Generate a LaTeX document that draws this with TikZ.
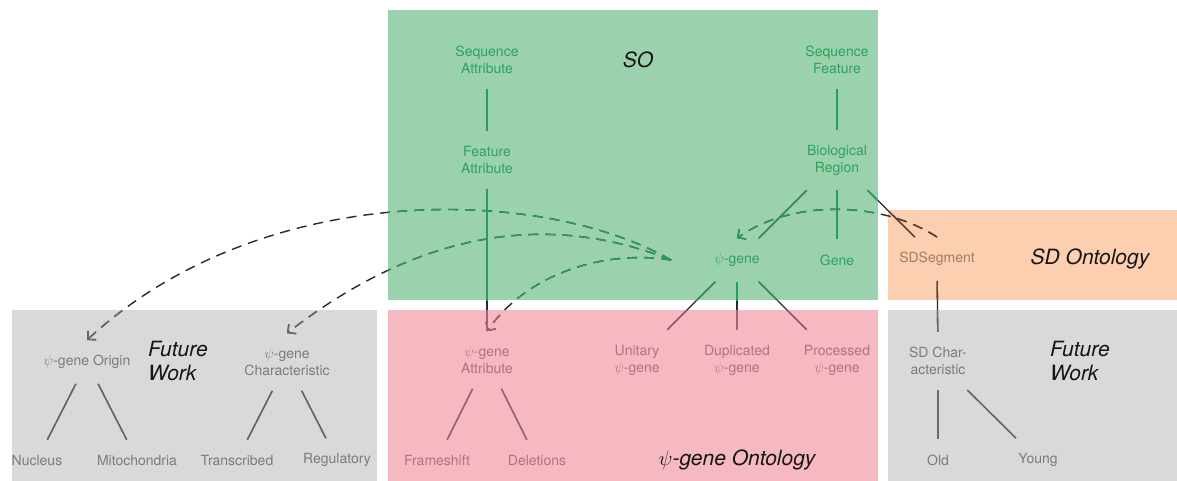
\documentclass[tikz,border=0pt]{standalone}
\usepackage{fontspec}
\setmainfont{TeX Gyre Heros}
\usetikzlibrary{arrows.meta}
\definecolor{gbox}{HTML}{9BD2AD}
\definecolor{pbox}{HTML}{F6B8C1}
\definecolor{ybox}{HTML}{D8D9DB}
\definecolor{obox}{HTML}{FBCFAF}
\definecolor{gtxt}{HTML}{2BA35B}
\definecolor{ptxt}{HTML}{B7707E}
\definecolor{ytxt}{HTML}{7B7B7B}
\definecolor{otxt}{HTML}{A57A68}
\definecolor{gline}{HTML}{2A9E58}
\definecolor{pline}{HTML}{A56272}
\definecolor{yline}{HTML}{6A6A6A}
\definecolor{oline}{HTML}{5A4038}
\definecolor{bline}{HTML}{2A2A2A}
\definecolor{ttl}{HTML}{151515}
\colorlet{lc}{bline}
\tikzset{
 lbl/.style={font=\fontsize{14}{17}\selectfont, align=center, inner xsep=8pt, inner ysep=15pt},
 ttlbl/.style={font=\fontsize{21}{24}\selectfont\itshape, text=ttl, inner sep=0pt, align=left},
 conn/.style={draw=lc, line width=1.3pt},
 dconn/.style={draw=lc, line width=1.4pt, dash pattern=on 10pt off 7pt,
   -{Straight Barb[length=6pt,width=12pt]}},
}
\newcommand\rectG{(388,10) rectangle (878,300)}
\newcommand\rectP{(388,310) rectangle (878,481)}
\newcommand\rectYL{(12,310) rectangle (377,481)}
\newcommand\rectO{(888,210) rectangle (1177,300)}
\newcommand\rectYR{(888,310) rectangle (1177,481)}
\newcommand\allconns{%
 \draw[conn] (sa) -- (fa);
 \draw[conn] (fa) -- (attr);
 \draw[conn] (sf) -- (br);
 \draw[conn] (br) -- (psi);
 \draw[conn] (br) -- (gene);
 \draw[conn] (br) -- (sdseg);
 \draw[conn] (psi) -- (uni);
 \draw[conn] (psi) -- (dup);
 \draw[conn] (psi) -- (proc);
 \draw[conn] (attr) -- (fs);
 \draw[conn] (attr) -- (del);
 \draw[conn] (orig) -- (nuc);
 \draw[conn] (orig) -- (mito);
 \draw[conn] (char) -- (tran);
 \draw[conn] (char) -- (reg);
 \draw[conn] (sdseg) -- (sdchar);
 \draw[conn] (sdchar) -- (old);
 \draw[conn] (sdchar) -- (young);
 \draw[dconn] (sdseg.north) .. controls (880,200) and (790,200) .. (psi.north);
 \draw[dconn] ([xshift=-35pt]psi.west) .. controls (540,185) and (260,180) .. (orig.north);
 \draw[dconn] ([xshift=-35pt]psi.west) .. controls (570,220) and (440,215) .. (char.north);
 \draw[dconn] ([xshift=-35pt]psi.west) .. controls (610,250) and (530,270) .. (attr.north);
}
\begin{document}
\begin{tikzpicture}[x=1pt,y=-1pt]
\useasboundingbox (0,0) rectangle (1177,481);
\fill[white] (0,0) rectangle (1177,481);
% boxes
\fill[gbox] \rectG;
\fill[pbox] \rectP;
\fill[ybox] \rectYL;
\fill[obox] \rectO;
\fill[ybox] \rectYR;
% SO
\node[lbl, text=gtxt] (sa) at (487,60) {Sequence\\Attribute};
\node[lbl, text=gtxt] (fa) at (487,160) {Feature\\Attribute};
\node[lbl, text=gtxt] (sf) at (837,60) {Sequence\\Feature};
\node[lbl, text=gtxt] (br) at (837,160) {Biological\\Region};
\node[lbl, text=gtxt] (psi) at (737,260) {$\psi$-gene};
\node[lbl, text=gtxt] (gene) at (837,260) {Gene};
\node[ttlbl] (so) at (638,60) {SO};
% SD
\node[lbl, text=otxt] (sdseg) at (937,259) {SDSegment};
\node[ttlbl] (sdont) at (1090,259) {SD Ontology};
% psi-gene ontology
\node[lbl, text=ptxt] (attr) at (487,360) {$\psi$-gene\\Attribute};
\node[lbl, text=ptxt] (uni) at (637,360) {Unitary\\$\psi$-gene};
\node[lbl, text=ptxt] (dup) at (737,360) {Duplicated\\$\psi$-gene};
\node[lbl, text=ptxt] (proc) at (837,360) {Processed\\$\psi$-gene};
\node[lbl, text=ptxt] (fs) at (437,460) {Frameshift};
\node[lbl, text=ptxt] (del) at (537,460) {Deletions};
\node[ttlbl] (psiont) at (737,460) {$\psi$-gene Ontology};
% future work left
\node[lbl, text=ytxt] (orig) at (87,362) {$\psi$-gene Origin};
\node[ttlbl, anchor=west] (fwl) at (148,361) {Future\\Work};
\node[lbl, text=ytxt] (char) at (287,362) {$\psi$-gene\\Characteristic};
\node[lbl, text=ytxt] (nuc) at (37,460) {Nucleus};
\node[lbl, text=ytxt] (mito) at (137,460) {Mitochondria};
\node[lbl, text=ytxt] (tran) at (237,460) {Transcribed};
\node[lbl, text=ytxt] (reg) at (337,460) {Regulatory};
% future work right
\node[lbl, text=ytxt] (sdchar) at (938,361) {SD Char-\\acteristic};
\node[ttlbl, anchor=west] (fwr) at (1050,361) {Future\\Work};
\node[lbl, text=ytxt] (old) at (938,460) {Old};
\node[lbl, text=ytxt] (young) at (1038,460) {Young};
% connectors: dark base, then tinted per region
\allconns
\begin{scope}\clip \rectG; \colorlet{lc}{gline}\allconns\end{scope}
\begin{scope}\clip \rectP; \colorlet{lc}{pline}\allconns\end{scope}
\begin{scope}\clip \rectYL; \colorlet{lc}{yline}\allconns\end{scope}
\begin{scope}\clip \rectO; \colorlet{lc}{oline}\allconns\end{scope}
\begin{scope}\clip \rectYR; \colorlet{lc}{yline}\allconns\end{scope}
\end{tikzpicture}
\end{document}
